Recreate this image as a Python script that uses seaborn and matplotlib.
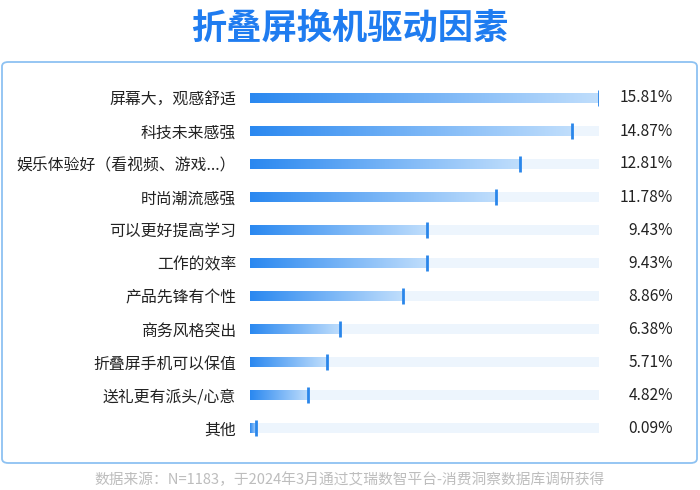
import matplotlib.pyplot as plt
import matplotlib.transforms as mtransforms
from matplotlib.colors import LinearSegmentedColormap
from matplotlib.patches import FancyBboxPatch
import seaborn as sns
import numpy as np
import pandas as pd

categories = ["屏幕大，观感舒适", "科技未来感强", "娱乐体验好（看视频、游戏...）", "时尚潮流感强",
              "可以更好提高学习", "工作的效率", "产品先锋有个性", "商务风格突出",
              "折叠屏手机可以保值", "送礼更有派头/心意", "其他"]
# labelled shares (%)
values = [15.81, 14.87, 12.81, 11.78, 9.43, 9.43, 8.86, 6.38, 5.71, 4.82, 0.09]
# bar lengths as drawn in the source chart (same % scale)
bar_values = [15.81, 14.57, 12.24, 11.15, 8.04, 8.04, 6.91, 4.09, 3.47, 2.65, 0.29]
title = "折叠屏换机驱动因素"
source = "数据来源：N=1183，于2024年3月通过艾瑞数智平台-消费洞察数据库调研获得"

sns.set_theme(style="white")
plt.rcParams['font.family'] = ['Noto Sans CJK SC', 'DejaVu Sans']

df = pd.DataFrame({"factor": categories, "share": values, "bar": bar_values})
df["track"] = max(values)

fig = plt.figure(figsize=(7, 4.9), dpi=100)
ax = fig.add_axes([250 / 700, 45.5 / 490, 349 / 700, 363 / 490])

# background tracks
sns.barplot(data=df, x="track", y="factor", color="#edf5fd", width=0.33,
            saturation=1, ax=ax)
n_track = len(ax.patches)
# value bars
sns.barplot(data=df, x="bar", y="factor", color="#2a88f0", width=0.33,
            saturation=1, ax=ax)
for p in ax.patches:
    p.set_edgecolor("none")

cmap = LinearSegmentedColormap.from_list("g", ["#2a88f0", "#c0defc"])
grad = np.linspace(0, 1, 256).reshape(1, -1)
for p in ax.patches[n_track:]:
    x0, y0 = p.get_x(), p.get_y()
    w, h = p.get_width(), p.get_height()
    im = ax.imshow(grad, cmap=cmap, aspect="auto", extent=(x0, x0 + w, y0 + h, y0),
                   zorder=p.get_zorder() + 0.1, interpolation="bicubic")
    im.set_clip_path(p)
    ax.vlines(x0 + w, y0 - 0.08, y0 + h + 0.08, color="#2a86ea", lw=2,
              zorder=p.get_zorder() + 0.2)

ax.set_xlim(0, max(values))
ax.set_ylim(len(values) - 0.5, -0.5)
ax.set_xlabel("")
ax.set_ylabel("")
ax.set_xticks([])
ax.tick_params(axis="y", length=0, pad=10, labelsize=11.4, labelcolor="#222222")
sns.despine(ax=ax, left=True, bottom=True)

trans = mtransforms.blended_transform_factory(ax.transAxes, ax.transData)
for i, v in enumerate(values):
    ax.text(1.212, i, f"{v:.2f}%", transform=trans, ha="right", va="center",
            fontsize=11.2, color="#222222")

# panel border
fig.patches.append(FancyBboxPatch((2 / 700, 27 / 490), 695 / 700, 401 / 490,
                                  boxstyle="round,pad=0,rounding_size=0.009",
                                  transform=fig.transFigure, fc="none",
                                  ec="#8ec2f2", lw=1.3))

fig.text(0.5, 462 / 490, title, ha="center", va="center", fontsize=25.4,
         fontweight="heavy", color="#1f7cf0")
fig.text(0.5, 10 / 490, source, ha="center", va="center", fontsize=10.6,
         color="#bdbdbd")

fig.savefig("out.png", dpi=100)
